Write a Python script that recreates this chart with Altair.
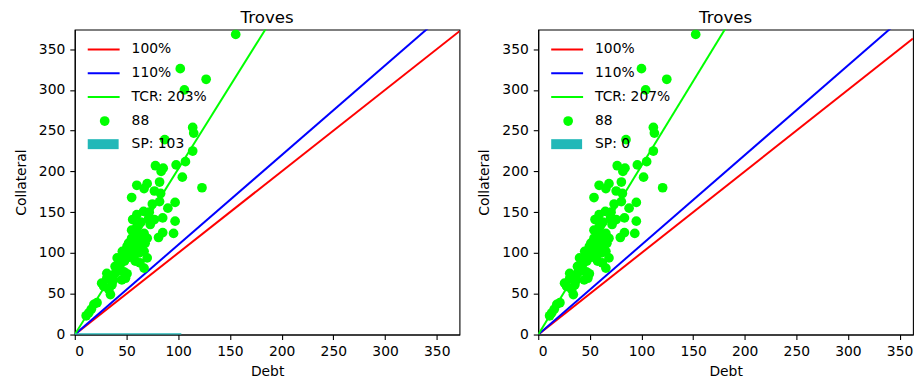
import altair as alt
import pandas as pd

# ---- data ----
collateral = [368, 326, 313, 300, 254, 247, 239, 225, 207, 204, 208, 212, 200, 193, 180,
              183, 185, 179, 168, 187, 176, 173, 162, 163, 155, 151, 147, 141, 143, 141,
              143, 139, 125, 124, 119, 128, 124, 124, 118, 116, 118, 108, 110, 108, 102,
              102, 100, 102, 94, 96, 94, 88, 81.5, 90, 83.5, 75, 75, 77, 74.5, 69,
              67, 67, 69, 59, 61, 49, 55, 39, 37, 26.5, 23, 112, 104, 86, 78,
              95, 132, 138, 135, 150, 120, 90, 72, 63, 31, 112, 160, 98]
debt_left = [155.6, 102, 127, 106, 114, 115, 87, 114, 78, 85.5, 98, 107, 83.5, 104, 123,
             60, 70, 67, 55, 82, 77, 83, 97, 82, 90, 66.5, 60, 56, 71.5, 77,
             85, 97, 85, 95.5, 81, 55, 60, 67, 55, 63, 70, 50.5, 58.5, 65, 46,
             54, 62, 67, 41, 49, 70, 63, 67, 58.5, 39, 31, 39, 47.5, 50.5, 31,
             37.5, 45.5, 49, 28, 36, 34.5, 33, 21.5, 18.5, 13.5, 11, 52, 57, 44, 42,
             53, 60, 64, 73, 72, 62, 48, 35, 26, 16, 68, 75, 58]
debt_right = [152.5, 100, 124.5, 104, 111.5, 112.5, 85, 111.5, 76.5, 84, 96, 105, 82, 102, 120.5,
              59, 68.5, 65.5, 54, 80.5, 75.5, 81.5, 95, 80.5, 88, 65, 59, 55, 70, 75.5,
              83.5, 95, 83.5, 93.5, 79.5, 54, 59, 65.5, 54, 62, 68.5, 49.5, 57.5, 63.5, 45,
              53, 61, 65.5, 40, 48, 68.5, 62, 65.5, 57.5, 38, 30.5, 38, 46.5, 49.5, 30.5,
              37, 44.5, 48, 27.5, 35.5, 34, 32.5, 21, 18, 13, 11, 51, 56, 43, 41,
              52, 59, 62.5, 71.5, 70.5, 61, 47, 34.5, 25.5, 15.5, 66.5, 73.5, 57]
tcr_left, tcr_right = 203, 207
sp_left, sp_right = 103, 0
ticks = [0, 50, 100, 150, 200, 250, 300, 350]
X_MAX_LEFT, X_MAX_RIGHT, Y_MAX = 372, 363, 374
SP_THICK = 1.6

FONT = "DejaVu Sans"
FS = 13.9
W_LEFT, W_RIGHT, H = 386, 376, 306
DOT = 95


def panel(debts, colls, tcr, sp, x_max, width):
    names = ["100%", "110%", f"TCR: {tcr}%"]
    ratios = [1.0, 1.1, tcr / 100]
    colors = ["#ff0000", "#0000ff", "#00ff00"]
    pts = pd.DataFrame({"Debt": debts, "Collateral": colls})
    sp_df = pd.DataFrame({"x0": [0], "x1": [sp], "y0": [0], "y1": [SP_THICK]})

    xs = alt.Scale(domain=[0, x_max], nice=False, zero=True)
    ys = alt.Scale(domain=[0, Y_MAX], nice=False, zero=True)
    xax = alt.Axis(values=ticks, grid=False, title="Debt")
    yax = alt.Axis(values=ticks, grid=False, title="Collateral")

    layers = []
    for n, r, c in zip(names, ratios, colors):
        ldf = pd.DataFrame({"Debt": [0, x_max], "Collateral": [0, r * x_max]})
        layers.append(alt.Chart(ldf).mark_line(strokeWidth=2, clip=True, color=c).encode(
            x=alt.X("Debt:Q", scale=xs, axis=xax),
            y=alt.Y("Collateral:Q", scale=ys, axis=yax),
        ))
    layers.append(alt.Chart(pts).mark_circle(size=DOT, opacity=1, color="#00ff00", clip=True).encode(
        x=alt.X("Debt:Q", scale=xs),
        y=alt.Y("Collateral:Q", scale=ys),
    ))
    layers.append(alt.Chart(sp_df).mark_rect(color="#22b8b8").encode(
        x=alt.X("x0:Q", scale=xs), x2="x1:Q",
        y=alt.Y("y0:Q", scale=ys), y2="y1:Q",
    ))

    # legend (drawn manually, top-left inside the plot)
    one = pd.DataFrame({"k": [0]})
    row_y = [20, 43.8, 67.6, 91.8, 115]
    labels = names + [str(len(debts)), f"SP: {sp}"]
    for i in range(3):
        layers.append(alt.Chart(one).mark_rule(color=colors[i], strokeWidth=2).encode(
            x=alt.value(13), x2=alt.value(45), y=alt.value(row_y[i])))
    layers.append(alt.Chart(one).mark_circle(size=DOT, opacity=1, color="#00ff00").encode(
        x=alt.value(30), y=alt.value(row_y[3])))
    layers.append(alt.Chart(one).mark_rect(color="#22b8b8").encode(
        x=alt.value(13), x2=alt.value(44), y=alt.value(row_y[4] - 5), y2=alt.value(row_y[4] + 5)))
    for i, lab in enumerate(labels):
        layers.append(alt.Chart(one).mark_text(text=lab, align="left", baseline="middle",
                                               font=FONT, fontSize=FS, color="black").encode(
            x=alt.value(57), y=alt.value(row_y[i])))

    return alt.layer(*layers).properties(
        width=width, height=H,
        title=alt.TitleParams("Troves", font=FONT, fontSize=16.7, fontWeight="normal",
                              color="black", offset=3, anchor="middle", frame="group"),
    )


chart = alt.hconcat(
    panel(debt_left, collateral, tcr_left, sp_left, X_MAX_LEFT, W_LEFT),
    panel(debt_right, collateral, tcr_right, sp_right, X_MAX_RIGHT, W_RIGHT),
    spacing=16,
).properties(
    padding={"left": 5, "top": 0, "right": 0, "bottom": 0}
).configure_axis(
    labelFont=FONT, labelFontSize=FS, labelColor="black",
    titleFont=FONT, titleFontSize=FS, titleFontWeight="normal", titleColor="black",
    tickSize=5, tickColor="black", tickWidth=1.1,
    domainColor="black", domainWidth=1.1, labelPadding=5,
).configure_axisY(titlePadding=10).configure_axisX(titlePadding=6).configure_view(
    stroke="black", strokeWidth=1.1
)

chart.save("out.html", embed_options={"renderer": "svg", "actions": False})
